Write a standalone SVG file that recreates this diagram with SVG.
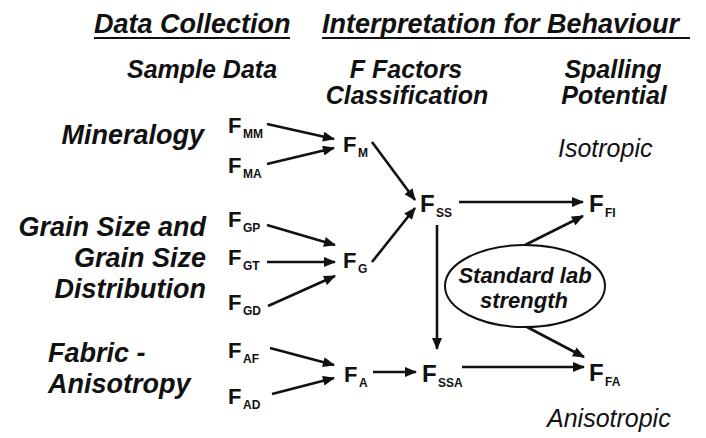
<svg xmlns="http://www.w3.org/2000/svg" width="706" height="438" viewBox="0 0 706 438">
<defs>
<marker id="ah" viewBox="0 0 12 10" refX="11" refY="5" markerWidth="13" markerHeight="10" markerUnits="userSpaceOnUse" orient="auto">
<path d="M0,0 L12,5 L0,10 z" fill="#111"/>
</marker>
<style>
text{font-family:"Liberation Sans",Arial,sans-serif;fill:#111}
.hd{font-size:27px;font-weight:bold;font-style:italic}
.sh{font-size:25px;font-weight:bold;font-style:italic;text-anchor:middle}
.lb{font-size:27px;font-weight:bold;font-style:italic}
.it{font-size:25px;font-style:italic}
.F{font-size:22px;font-weight:bold}
.F2{font-size:24px;font-weight:bold}
.s{font-size:12px;font-weight:bold}
.el{font-size:22px;font-weight:bold;font-style:italic;text-anchor:middle}
.c line{stroke:#111;stroke-width:2.6;marker-end:url(#ah)}
</style>
</defs>
<rect width="706" height="438" fill="#fff"/>
<g id="headers">
<text class="hd" x="94" y="33">Data Collection</text>
<line x1="94" y1="38" x2="290" y2="38" stroke="#111" stroke-width="2"/>
<text class="hd" x="322" y="33">Interpretation for Behaviour</text>
<line x1="322" y1="38" x2="690" y2="38" stroke="#111" stroke-width="2"/>
<text class="sh" x="202" y="78">Sample Data</text>
<text class="sh" x="406" y="78">F Factors</text>
<text class="sh" x="407" y="104">Classification</text>
<text class="sh" x="613" y="78">Spalling</text>
<text class="sh" x="614" y="104">Potential</text>
</g>
<g id="labels">
<text class="lb" x="204" y="144" text-anchor="end">Mineralogy</text>
<text class="lb" x="206" y="236" text-anchor="end">Grain Size and</text>
<text class="lb" x="206" y="267" text-anchor="end">Grain Size</text>
<text class="lb" x="206" y="298" text-anchor="end">Distribution</text>
<text class="lb" x="48" y="362">Fabric -</text>
<text class="lb" x="48" y="393">Anisotropy</text>
<text class="it" x="558" y="157">Isotropic</text>
<text class="it" x="547" y="427">Anisotropic</text>
</g>
<g id="F_MM"><text class="F" x="228" y="133">F</text><text class="s" x="243" y="138">MM</text></g>
<g id="F_MA"><text class="F" x="228" y="173">F</text><text class="s" x="243" y="178">MA</text></g>
<g id="F_M"><text class="F" x="343" y="152">F</text><text class="s" x="358" y="157">M</text></g>
<g id="F_SS"><text class="F2" x="420" y="212">F</text><text class="s" x="436" y="217">SS</text></g>
<g id="F_FI"><text class="F2" x="589" y="212">F</text><text class="s" x="605" y="217">FI</text></g>
<g id="F_GP"><text class="F" x="228" y="227">F</text><text class="s" x="243" y="232">GP</text></g>
<g id="F_GT"><text class="F" x="228" y="265">F</text><text class="s" x="243" y="270">GT</text></g>
<g id="F_G"><text class="F" x="343" y="268">F</text><text class="s" x="358" y="273">G</text></g>
<g id="F_GD"><text class="F" x="228" y="310">F</text><text class="s" x="243" y="315">GD</text></g>
<g id="F_AF"><text class="F" x="228" y="358">F</text><text class="s" x="243" y="363">AF</text></g>
<g id="F_AD"><text class="F" x="228" y="404">F</text><text class="s" x="243" y="409">AD</text></g>
<g id="F_A"><text class="F" x="344" y="382">F</text><text class="s" x="359" y="387">A</text></g>
<g id="F_SSA"><text class="F2" x="422" y="382">F</text><text class="s" x="438" y="387">SSA</text></g>
<g id="F_FA"><text class="F2" x="589" y="381">F</text><text class="s" x="605" y="386">FA</text></g>
<g id="lab_strength">
<ellipse cx="525" cy="286" rx="80" ry="41" fill="#fff" stroke="#111" stroke-width="2"/>
<text class="el" x="525" y="283">Standard lab</text>
<text class="el" x="524" y="308">strength</text>
</g>
<g id="connectors" class="c">
<line x1="267" y1="124" x2="334" y2="139"/>
<line x1="267" y1="164" x2="334" y2="148"/>
<line x1="372" y1="142" x2="415" y2="200"/>
<line x1="372" y1="262" x2="415" y2="208"/>
<line x1="267" y1="225" x2="335" y2="245"/>
<line x1="267" y1="262" x2="335" y2="262"/>
<line x1="268" y1="306" x2="335" y2="276"/>
<line x1="270" y1="348" x2="334" y2="365"/>
<line x1="272" y1="394" x2="334" y2="378"/>
<line x1="373" y1="372" x2="416" y2="372"/>
<line x1="437" y1="225" x2="437" y2="349"/>
<line x1="459" y1="202" x2="583" y2="202"/>
<line x1="462" y1="367" x2="584" y2="367"/>
<line x1="525" y1="245" x2="583" y2="216"/>
<line x1="527" y1="327" x2="584" y2="357"/>
</g>
</svg>
